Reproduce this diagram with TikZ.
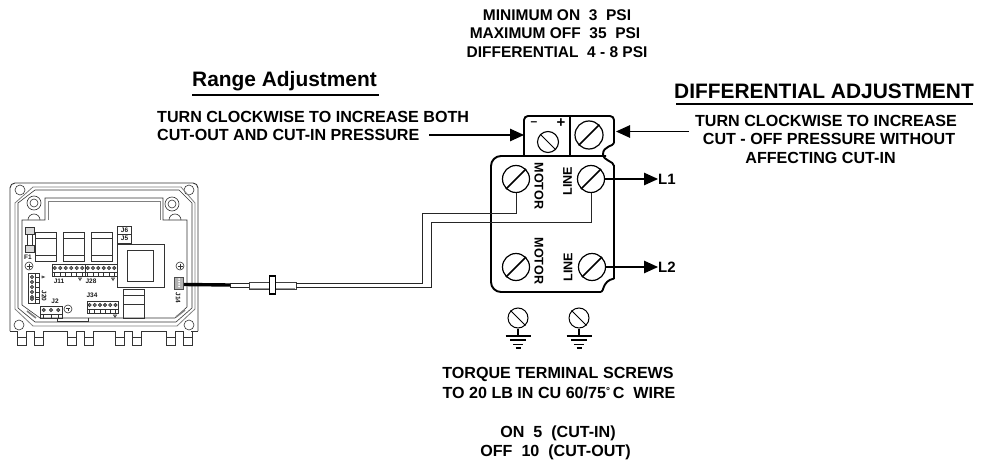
\documentclass[tikz,border=0pt]{standalone}
\usepackage{fontspec}
\setmainfont{Liberation Sans}
\usetikzlibrary{arrows.meta}
\newcommand{\fsz}[1]{\fontsize{#1}{#1}\selectfont\bfseries}
\newcommand{\termstrip}[5]{% x0 y0 x1 y1 n
  \draw[ctl] (#1,#2) rectangle (#3,#4);
  \draw[ctl] (#1,#4-4) -- (#3,#4-4);
  \foreach \i in {1,...,#5}{
    \pgfmathsetmacro{\xx}{#1+(\i-0.5)*(#3-#1)/#5}
    \draw[ctl,fill=black!55] (\xx,#2+4) circle (1.7);
    \draw[ctl] (\xx,#4-4) -- (\xx,#4);
  }}
\tikzset{
  lab/.style={font=\fsz{16.1},inner sep=0pt,align=center,text=black},
  labtop/.style={font=\fsz{15.5},inner sep=0pt,align=center,text=black},
  head/.style={font=\fsz{20.9},inner sep=0pt,text=black},
  rot/.style={font=\fsz{12.6},inner sep=0pt,text=black},
  ctl/.style={line width=0.6pt,draw=black!80},
  ctlg/.style={line width=0.8pt,draw=black!50},
  clab/.style={font=\fsz{6.5},inner sep=0pt,text=black!90},
  body/.style={line width=1.9pt,draw=black,line join=round},
  wire/.style={line width=1pt,draw=black!85},
  screwbig/.style={circle,draw=black,line width=1.2pt,minimum size=27pt,inner sep=0pt},
  screwsm/.style={circle,draw=black,line width=1.1pt,minimum size=20pt,inner sep=0pt},
  slash/.style={line width=1.7pt,draw=black},
  thin slash/.style={line width=1pt,draw=black},
  arr/.style={line width=1.1pt,draw=black,-{Triangle[length=14pt,width=12.5pt]}},
  gnd/.style={line width=1.1pt,draw=black},
}
\begin{document}
\begin{tikzpicture}[x=1pt,y=-1pt]
\useasboundingbox (0,0) rectangle (981,465);
\fill[white] (0,0) rectangle (981,465);

% ---- texts
\node[labtop] (t1) at (557,15) {MINIMUM ON\ \ 3\ \ PSI};
\node[labtop] (t2) at (555,33) {MAXIMUM OFF\ \ 35\ \ PSI};
\node[labtop] (t3) at (557,52) {DIFFERENTIAL\ \ 4 - 8 PSI};
\node[head] (ra) at (284.5,81) {Range Adjustment};
\draw[line width=1.4pt] (192,95) -- (379,95);
\node[lab,anchor=west] (l1) at (157,117) {TURN CLOCKWISE TO INCREASE BOTH};
\node[lab,anchor=west] (l2) at (157,135) {CUT-OUT AND CUT-IN PRESSURE};
\node[head] (da) at (824,91) {DIFFERENTIAL ADJUSTMENT};
\draw[line width=1.4pt] (676,104) -- (973,104);
\node[lab] (r1) at (826,121) {TURN CLOCKWISE TO INCREASE};
\node[lab] (r2) at (829,139) {CUT - OFF PRESSURE WITHOUT};
\node[lab] (r3) at (820.5,158) {AFFECTING CUT-IN};
\node[lab] (b1) at (558,374) {TORQUE TERMINAL SCREWS};
\node[lab] (b2) at (559,393) {TO 20 LB IN CU 60/75\raisebox{4.5pt}{\fontsize{10}{10}\selectfont °}\,C\ \ WIRE};
\node[lab] (b3) at (558,433) {ON\ \ 5\ \ (CUT-IN)};
\node[lab] (b4) at (555.5,452) {OFF\ \ 10\ \ (CUT-OUT)};

% ---- controller
\draw[ctl,line width=0.9pt,rounded corners=5pt] (10,331) -- (10,183) -- (198,183) -- (198,331);
\draw[ctl,line width=0.9pt] (10,331) -- (17,331) (26,331) -- (34,331) (43,331) -- (67,331) (76,331) -- (84,331) (93,331) -- (115,331) (124,331) -- (132,331) (141,331) -- (166,331) (175,331) -- (183,331) (191,331) -- (198,331);
\foreach \a in {17,34,67,84,115,132,166,183}{
  \draw[ctl,line width=0.9pt] (\a,331) -- (\a,345) -- (\a+9,345) -- (\a+9,331);
  \draw[ctl] (\a,337) -- (\a+9,337);
}
\foreach \a/\b in {20/190,189/190,19/325,189/325} \draw[ctl] (\a,\b) circle (5);
\draw[ctlg] (15,203) -- (33,187) -- (181,187) -- (195,203) -- (195,309) -- (177,326) -- (33,326) -- (15,309) -- cycle;
\draw[ctl] (18,203) -- (35,190) -- (179,190) -- (192,203) -- (192,308) -- (176,322) -- (35,322) -- (18,308) -- cycle;
\draw[ctl] (22,220) -- (45,220) -- (45,198) -- (163,198) -- (163,220) -- (187,220) -- (187,307) -- (175,318) -- (40,318) -- (22,305) -- cycle;
\draw[ctlg] (48,220) -- (48,201) -- (160,201) -- (160,220);
\draw[ctl] (57,318) -- (57,321) -- (88,321) -- (88,318);
\foreach \a/\b in {34/203,172/204}{ \draw[ctl] (\a,\b) circle (7); \draw[ctl] (\a,\b) circle (4); }
\draw[ctl] (28,220) arc (180:360:6);
\draw[ctl] (169,220) arc (180:360:6);
\draw[ctlg,line width=1.6pt] (27,311) -- (36,318);
\draw[ctlg,line width=1.6pt] (176,317) -- (185,310);
% fuse
\draw[ctl,line width=1pt,fill=black!15] (25,227) rectangle (34,234);
\draw[ctl,line width=1pt,fill=black!15] (25,245) rectangle (34,252);
\draw[ctl] (27,234) -- (27,245) (32,234) -- (32,245);
% relays
\foreach \a in {35,63,91}{
  \draw[ctl] (\a,232) rectangle (\a+21,261);
  \draw[ctl] (\a,238) -- (\a+21,238) (\a,255) -- (\a+21,255);
}
\draw[ctl] (117,226) rectangle (131,243);
\draw[ctl] (117,234) -- (131,234);
\node[clab] (j6) at (124.5,230.5) {J6};
\node[clab] (j5) at (124.5,238.5) {J5};
\draw[ctl] (117,244) rectangle (164,287);
\draw[ctl] (127,250) rectangle (153,281);
\draw[ctl] (123,289) rectangle (144,318);
\draw[ctl] (123,295) -- (144,295) (123,304) -- (144,304);
% terminals
\termstrip{52}{264}{85}{276}{6}
\termstrip{85}{264}{117}{276}{6}
\termstrip{87}{301}{118}{313}{6}
\termstrip{40}{306}{62}{318}{3}
\draw[ctl] (28,273) rectangle (39,303);
\draw[ctl] (35,273) -- (35,303);
\foreach \b in {277,282,287,292,297,299}{
  \draw[ctl,fill=black!55] (32,\b) circle (1.7);
  \draw[ctl] (35,\b) -- (39,\b);
}
\foreach \a/\b in {29/266,180/266}{
  \draw[ctl] (\a,\b) circle (4);
  \draw[ctl,line width=0.9pt] (\a-2.5,\b) -- (\a+2.5,\b) (\a,\b-2.5) -- (\a,\b+2.5);
}
\draw[ctl] (68,309) circle (4);
\draw[ctl] (66,308) -- (70,308) (68,308) -- (68,311);
\foreach \a/\b in {80/278,113/278,115/315}{ \draw[ctl] (\a-1.5,\b) -- (\a+1.5,\b) -- (\a,\b+2.5) -- cycle; }
\draw[ctl] (42,276) -- (42,278) -- (44.5,277) -- cycle;
\node[clab] (f1) at (28,257) {F1};
\node[clab] (j11) at (59,281) {J11};
\node[clab] (j28) at (91,281) {J28};
\node[clab,rotate=-90] (j20) at (44,296) {J20};
\node[clab] (j2) at (55,301) {J2};
\node[clab] (j34) at (92,295) {J34};
\node[clab,rotate=-90] (j14) at (178,298) {J14};
\node[draw=black!70,fill=black!30,line width=0.7pt,minimum width=9.5pt,minimum height=12pt,inner sep=0pt] (jbox) at (179,283) {};
\foreach \b in {279,281.5,284,286.5}{ \fill[white] (179,\b) circle (1); }

% ---- cable and fitting
\coordinate (c1) at (230,285);
\coordinate (c2) at (249,285);
\draw[line width=3.4pt,black] (jbox.east) ++(0,1.5) -- (c1);
\draw[wire,line width=0.8pt,fill=white] (230,283) rectangle (249,287);
\node[draw=black!75,fill=white,line width=0.8pt,minimum width=47pt,minimum height=7pt,inner sep=0pt] (fit) at (272.5,285.5) {};
\draw[black!40,line width=0.8pt] (250,288.6) -- (295,288.6);
\node[draw=black,fill=white,line width=1.1pt,minimum width=6pt,minimum height=18pt,inner sep=0pt] (collar) at (272.5,285) {};

% ---- switch body
\draw[body,rounded corners=4pt] (524,156) -- (524,116) -- (614,116) -- (614,143);
\draw[body] (614,143) .. controls (614,146) and (603,146) .. (603,154) .. controls (603,161) and (614,161) .. (614,166);
\draw[body,rounded corners=10pt] (606,156) -- (491,156) -- (491,292) -- (601,292);
\draw[body] (601,292) .. controls (604,292) and (602,281) .. (614,278.5);
\draw[body] (614,165) -- (614,279);
\draw[body] (570,116) -- (570,156);

\node[lab,font=\fsz{12}] (minus) at (534,124) {–};
\node[lab,font=\fsz{15}] (plus) at (561,123) {+};
\node[screwsm,minimum size=21pt] (adjL) at (548,142) {};
\draw[thin slash] (adjL.north west) -- (adjL.south east);
\node[screwbig,minimum size=28pt] (adjR) at (589,135) {};
\draw[slash] (adjR.south west) -- (adjR.north east);
\node[screwbig] (motorT) at (516,179) {};
\draw[slash] (motorT.south west) -- (motorT.north east);
\node[screwbig] (lineT) at (591,179) {};
\draw[slash] (lineT.south west) -- (lineT.north east);
\node[screwbig] (motorB) at (516,267) {};
\draw[slash] (motorB.south west) -- (motorB.north east);
\node[screwbig] (lineB) at (592,267) {};
\draw[slash] (lineB.south west) -- (lineB.north east);

\node[rot,rotate=-90] (mT) at (539,186) {MOTOR};
\node[rot,rotate=90] (lT) at (567.5,181) {LINE};
\node[rot,rotate=-90] (mB) at (539,261) {MOTOR};
\node[rot,rotate=90] (lB) at (568,267) {LINE};

% ---- wires
\draw[wire] (fit.east |- 0,283) -- (422,283) -- (422,213) -- (motorT.south |- 0,213) -- (motorT.south);
\draw[wire] (fit.east |- 0,287) -- (431,287) -- (431,222) -- (lineT.south |- 0,222) -- (lineT.south);

% ---- arrows
\node[lab,anchor=west,font=\fsz{15}] (L1) at (658,179) {L1};
\node[lab,anchor=west,font=\fsz{15}] (L2) at (658,267) {L2};
\draw[arr] (lineT.east) -- (L1.west);
\draw[arr] (lineB.east) -- (L2.west);
\coordinate (aL) at (429,135);
\draw[arr] (aL) -- (524,135);
\coordinate (aR) at (689,131.5);
\draw[arr] (aR) -- (616,131.5);

% ---- ground screws
\foreach \n/\x in {g1/518,g2/579}{
  \node[screwsm,line width=1pt] (\n) at (\x,318) {};
  \draw[thin slash] (\n.north west) -- (\n.south east);
  \draw[gnd] (\n.south) -- (\x,336);
  \draw[gnd] (\x-12.5,336) -- (\x+12.5,336);
  \draw[gnd] (\x-8,340) -- (\x+8,340);
  \draw[gnd] (\x-5,344.5) -- (\x+5,344.5);
  \draw[gnd] (\x-2.5,348) -- (\x+2.5,348);
}
\end{tikzpicture}
\end{document}
